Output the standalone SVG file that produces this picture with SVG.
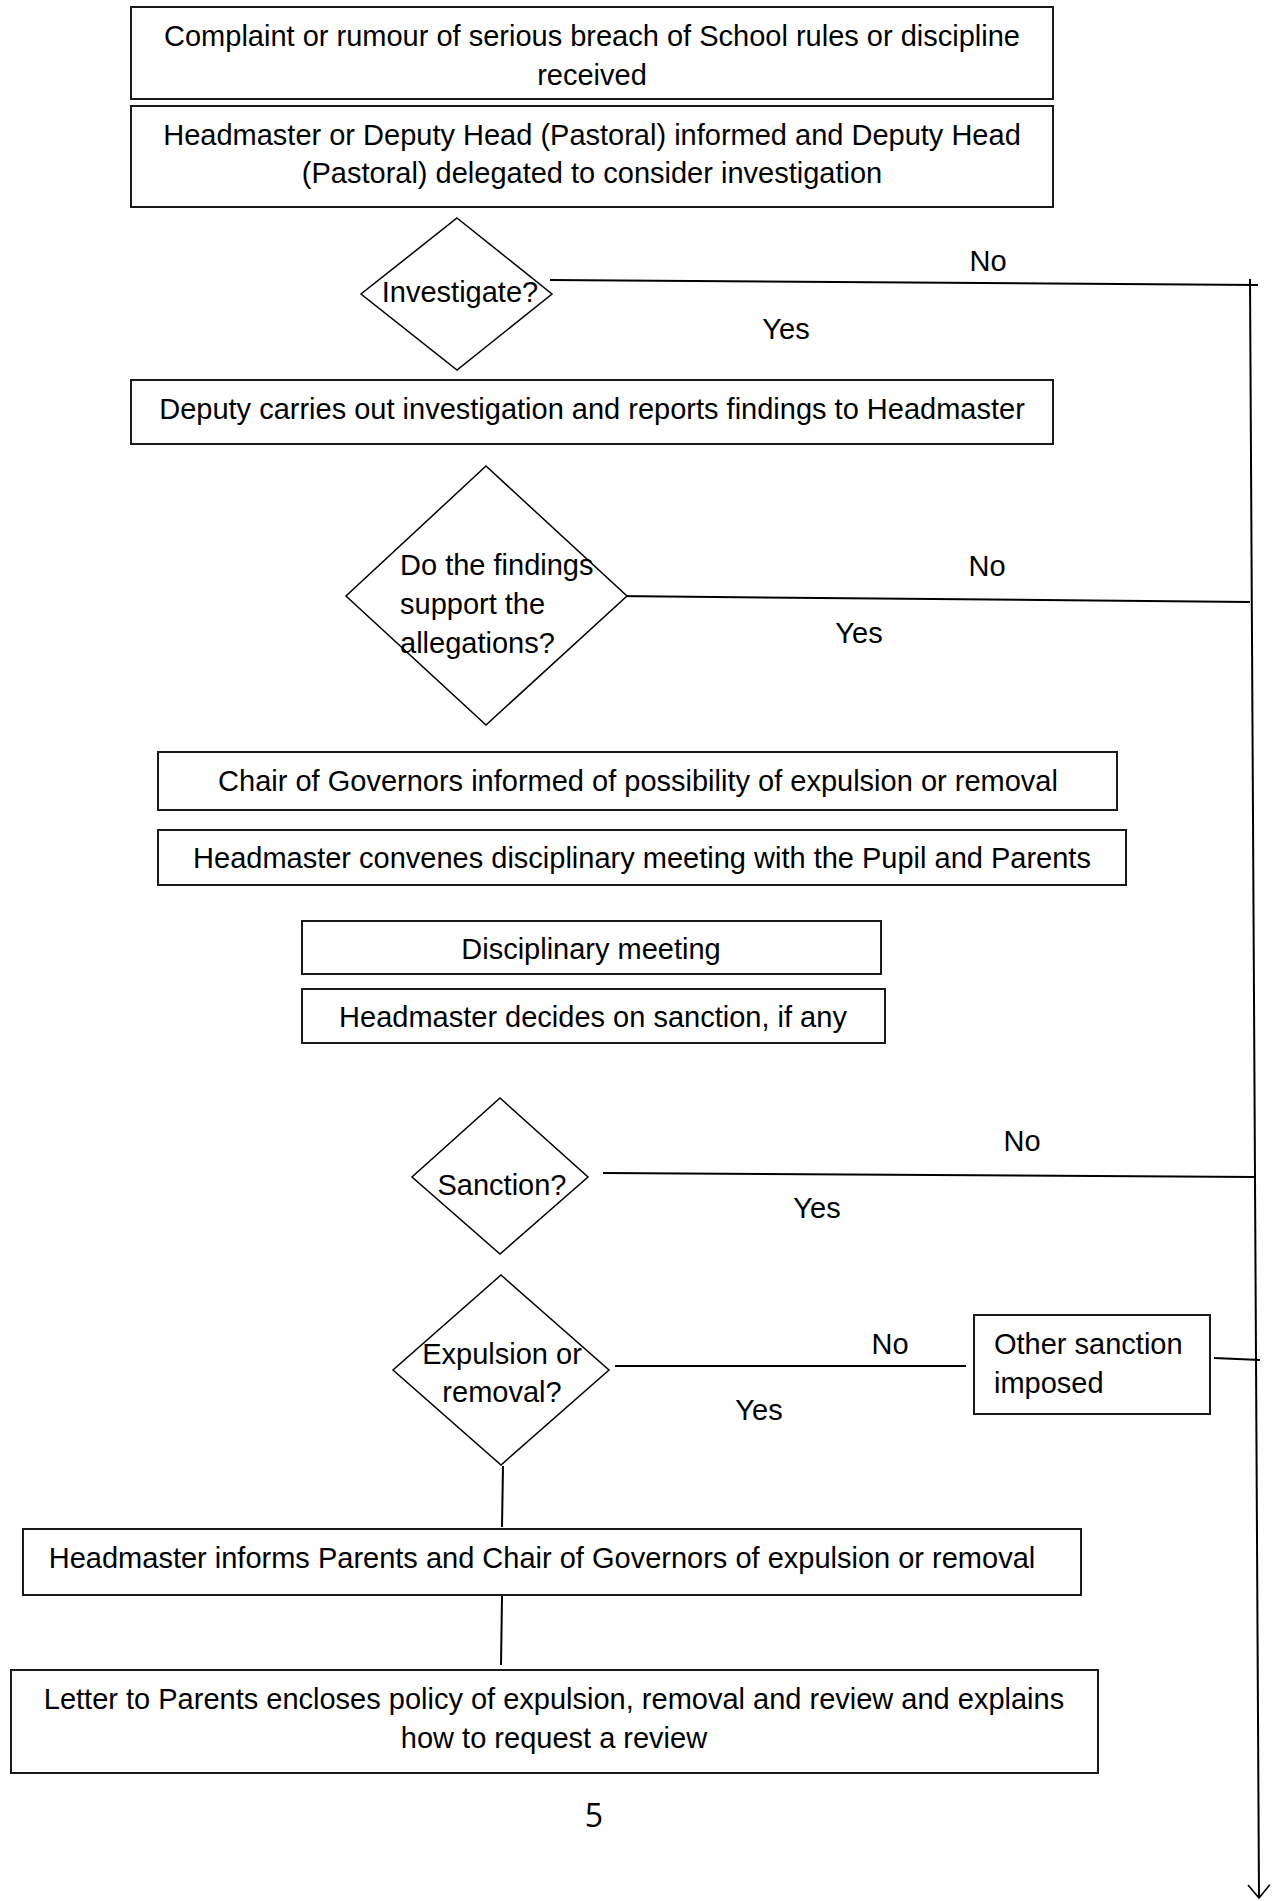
<svg xmlns="http://www.w3.org/2000/svg" width="1276" height="1901" viewBox="0 0 1276 1901">
<style>
.box{fill:#fff;stroke:#1a1a1a;stroke-width:2}
.dia{fill:#fff;stroke:#000;stroke-width:1.5}
.ln{fill:none;stroke:#000;stroke-width:2}
.t{font-family:"Liberation Sans",Arial,sans-serif;font-size:29px;fill:#000}
.c{text-anchor:middle}
</style>
<defs>
<marker id="arr" markerUnits="userSpaceOnUse" markerWidth="16" markerHeight="24" viewBox="-1 -11 14 22" refX="12" refY="0" orient="auto">
<path d="M0,-10 L12,0 L0,10" fill="none" stroke="#000" stroke-width="1.5"/>
</marker>
</defs>
<rect width="1276" height="1901" fill="#fff"/>

<g id="connectors">
<line class="ln" x1="550" y1="280" x2="1258" y2="285"/>
<line class="ln" x1="1250" y1="279" x2="1259" y2="1898" marker-end="url(#arr)"/>
<line class="ln" x1="615" y1="596" x2="1250" y2="602"/>
<line class="ln" x1="603" y1="1173" x2="1256" y2="1177"/>
<line class="ln" x1="615" y1="1366" x2="966" y2="1366"/>
<line class="ln" x1="1214" y1="1358" x2="1260" y2="1360"/>
<line class="ln" x1="503" y1="1466" x2="502" y2="1527"/>
<line class="ln" x1="502" y1="1596" x2="501" y2="1665"/>
<text class="t c" x="988" y="271">No</text>
<text class="t c" x="786" y="339">Yes</text>
<text class="t c" x="987" y="576">No</text>
<text class="t c" x="859" y="643">Yes</text>
<text class="t c" x="1022" y="1151">No</text>
<text class="t c" x="817" y="1218">Yes</text>
<text class="t c" x="890" y="1354">No</text>
<text class="t c" x="759" y="1420">Yes</text>
</g>

<g id="n1">
<rect class="box" x="131" y="7" width="922" height="92"/>
<text class="t c" x="592" y="46">Complaint or rumour of serious breach of School rules or discipline</text>
<text class="t c" x="592" y="85">received</text>
</g>
<g id="n2">
<rect class="box" x="131" y="106" width="922" height="101"/>
<text class="t c" x="592" y="145">Headmaster or Deputy Head (Pastoral) informed and Deputy Head</text>
<text class="t c" x="592" y="183">(Pastoral) delegated to consider investigation</text>
</g>
<g id="d1">
<polygon class="dia" points="457,218 552,294 457,370 361,294"/>
<text class="t c" x="460" y="302">Investigate?</text>
</g>
<g id="n3">
<rect class="box" x="131" y="380" width="922" height="64"/>
<text class="t c" x="592" y="419">Deputy carries out investigation and reports findings to Headmaster</text>
</g>
<g id="d2">
<polygon class="dia" points="486,466 627,596 486,725 346,596"/>
<text class="t" x="400" y="575">Do the findings</text>
<text class="t" x="400" y="614">support the</text>
<text class="t" x="400" y="653">allegations?</text>
</g>
<g id="n4">
<rect class="box" x="158" y="752" width="959" height="58"/>
<text class="t c" x="638" y="791">Chair of Governors informed of possibility of expulsion or removal</text>
</g>
<g id="n5">
<rect class="box" x="158" y="830" width="968" height="55"/>
<text class="t c" x="642" y="868">Headmaster convenes disciplinary meeting with the Pupil and Parents</text>
</g>
<g id="n6">
<rect class="box" x="302" y="921" width="579" height="53"/>
<text class="t c" x="591" y="959">Disciplinary meeting</text>
</g>
<g id="n7">
<rect class="box" x="302" y="989" width="583" height="54"/>
<text class="t c" x="593" y="1027">Headmaster decides on sanction, if any</text>
</g>
<g id="d3">
<polygon class="dia" points="500,1098 588,1177 500,1254 412,1177"/>
<text class="t c" x="502" y="1195">Sanction?</text>
</g>
<g id="d4">
<polygon class="dia" points="501,1275 609,1370 501,1465 393,1370"/>
<text class="t c" x="502" y="1364">Expulsion or</text>
<text class="t c" x="502" y="1402">removal?</text>
</g>
<g id="n8">
<rect class="box" x="974" y="1315" width="236" height="99"/>
<text class="t" x="994" y="1354">Other sanction</text>
<text class="t" x="994" y="1393">imposed</text>
</g>
<g id="n9">
<rect class="box" x="23" y="1529" width="1058" height="66"/>
<text class="t c" x="542" y="1568">Headmaster informs Parents and Chair of Governors of expulsion or removal</text>
</g>
<g id="n10">
<rect class="box" x="11" y="1670" width="1087" height="103"/>
<text class="t c" x="554" y="1709">Letter to Parents encloses policy of expulsion, removal and review and explains</text>
<text class="t c" x="554" y="1748">how to request a review</text>
</g>
<text x="594" y="1827" text-anchor="middle" font-family="'Open Sans','Noto Sans',sans-serif" font-size="32" fill="#000">5</text>
</svg>
